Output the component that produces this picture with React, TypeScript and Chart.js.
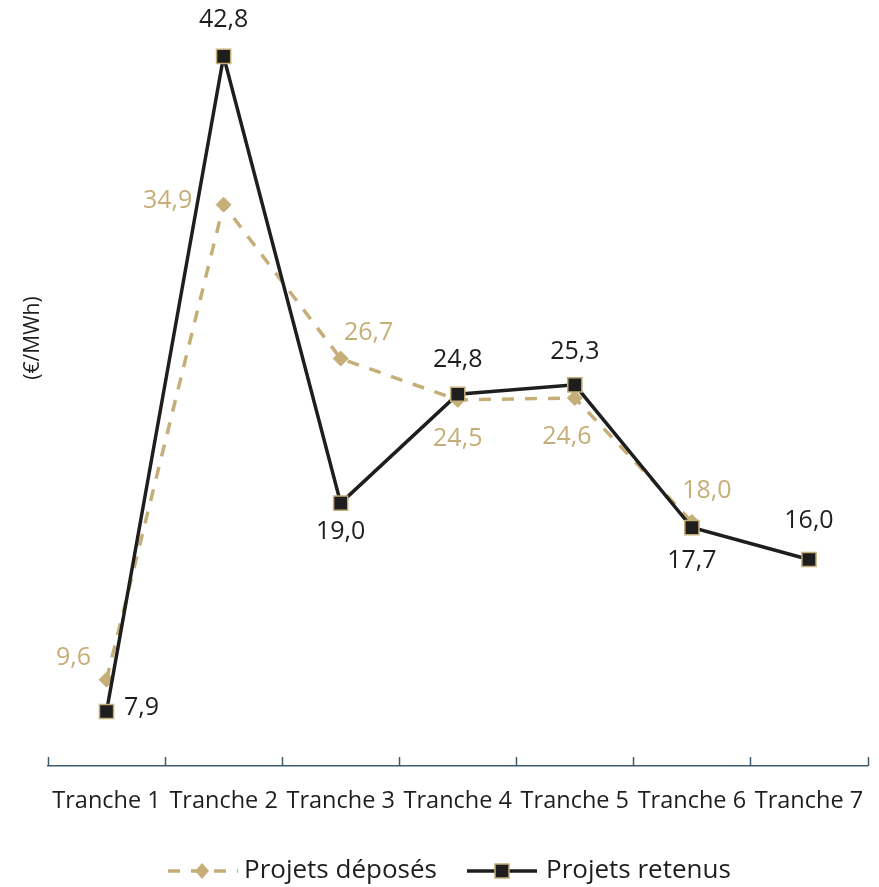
import React, { useEffect, useRef } from "react";
import { Chart, registerables } from "chart.js";

Chart.register(...registerables);

const categories = ["Tranche 1", "Tranche 2", "Tranche 3", "Tranche 4", "Tranche 5", "Tranche 6", "Tranche 7"];
const deposes: (number | null)[] = [9.6, 34.9, 26.7, 24.5, 24.6, 18.0, null];
const retenus: number[] = [7.9, 42.8, 19.0, 24.8, 25.3, 17.7, 16.0];
const seriesNames = ["Projets déposés", "Projets retenus"];
const yTitle = "(€/MWh)";

const TAN = "#c6ae78";
const DARK = "#1e1e1e";
const AXIS = "#3e5b6e";
const FONT = "'Open Sans', Lato, sans-serif";

// label offsets (dx, dy) relative to point, per dataset
const labelOffsets: [number, number][][] = [
  [[-33, -22], [-56, -4], [28, -26], [0, 39], [-8, 39], [15, -31], [0, 0]],
  [[35, -4], [0, -36], [0, 29], [0, -34], [0, -33], [0, 33], [0, -39]],
];

const fmt = (v: number) => v.toFixed(1).replace(".", ",");

const customPlugin = {
  id: "custom",
  afterDatasetsDraw(chart: any) {
    const ctx = chart.ctx;
    ctx.save();
    ctx.font = `25px ${FONT}`;
    ctx.textAlign = "center";
    ctx.textBaseline = "middle";
    chart.data.datasets.forEach((ds: any, di: number) => {
      const meta = chart.getDatasetMeta(di);
      ctx.fillStyle = di === 0 ? TAN : DARK;
      meta.data.forEach((pt: any, i: number) => {
        const v = ds.data[i];
        if (v === null || v === undefined) return;
        const [dx, dy] = labelOffsets[di][i];
        ctx.fillText(fmt(v), pt.x + dx, pt.y + dy);
      });
    });
    ctx.restore();
  },
  afterDraw(chart: any) {
    const ctx = chart.ctx;
    const xs = chart.scales.x;
    const area = chart.chartArea;
    ctx.save();
    // y axis title
    ctx.save();
    ctx.translate(33, 338);
    ctx.rotate(-Math.PI / 2);
    ctx.font = `21px ${FONT}`;
    ctx.fillStyle = DARK;
    ctx.textAlign = "center";
    ctx.textBaseline = "middle";
    ctx.fillText(yTitle, 0, 0);
    ctx.restore();
    // tick marks at category boundaries (upward)
    ctx.strokeStyle = AXIS;
    ctx.lineWidth = 1.5;
    const n = categories.length;
    const step = (area.right - area.left) / n;
    for (let i = 0; i <= n; i++) {
      const x = Math.round(xs.getPixelForValue(0) - step / 2 + i * step) + 0.5;
      ctx.beginPath();
      ctx.moveTo(x, area.bottom);
      ctx.lineTo(x, area.bottom - 9);
      ctx.stroke();
    }
    // legend
    const ly = 871;
    ctx.font = `26px ${FONT}`;
    ctx.textBaseline = "middle";
    ctx.textAlign = "left";
    // deposes
    ctx.strokeStyle = TAN;
    ctx.lineWidth = 3.5;
    ctx.setLineDash([12, 11]);
    ctx.beginPath();
    ctx.moveTo(168, ly);
    ctx.lineTo(238, ly);
    ctx.stroke();
    ctx.setLineDash([]);
    ctx.fillStyle = TAN;
    ctx.beginPath();
    ctx.moveTo(202, ly - 8);
    ctx.lineTo(209, ly);
    ctx.lineTo(202, ly + 8);
    ctx.lineTo(195, ly);
    ctx.closePath();
    ctx.fill();
    ctx.fillStyle = DARK;
    ctx.fillText(seriesNames[0], 244, ly);
    // retenus
    ctx.strokeStyle = DARK;
    ctx.lineWidth = 3.5;
    ctx.beginPath();
    ctx.moveTo(467, ly);
    ctx.lineTo(537, ly);
    ctx.stroke();
    ctx.fillStyle = DARK;
    ctx.fillRect(495, ly - 7, 14, 14);
    ctx.strokeStyle = TAN;
    ctx.lineWidth = 1.5;
    ctx.strokeRect(495, ly - 7, 14, 14);
    ctx.fillStyle = DARK;
    ctx.fillText(seriesNames[1], 546, ly);
    ctx.restore();
  },
};

export default function App() {
  const ref = useRef<HTMLCanvasElement | null>(null);
  useEffect(() => {
    if (!ref.current) return;
    const chart = new Chart(ref.current, {
      type: "line",
      data: {
        labels: categories,
        datasets: [
          {
            label: seriesNames[0],
            data: deposes,
            borderColor: TAN,
            backgroundColor: TAN,
            borderWidth: 3.5,
            borderDash: [12, 11],
            pointStyle: "rectRot",
            pointRadius: 7.5,
            pointBackgroundColor: TAN,
            pointBorderColor: TAN,
            pointBorderWidth: 1,
            order: 1,
            tension: 0,
          },
          {
            label: seriesNames[1],
            data: retenus,
            borderColor: DARK,
            backgroundColor: DARK,
            borderWidth: 3.5,
            pointStyle: "rect",
            pointRadius: 10,
            pointBackgroundColor: DARK,
            pointBorderColor: TAN,
            pointBorderWidth: 1.5,
            order: 0,
            tension: 0,
          },
        ] as any,
      },
      options: {
        animation: false,
        responsive: true,
        maintainAspectRatio: false,
        layout: { padding: { left: 48, right: 8, top: 15, bottom: 71 } },
        plugins: {
          legend: { display: false },
          tooltip: { enabled: false },
        },
        scales: {
          x: {
            offset: true,
            grid: { display: true, drawOnChartArea: false, drawTicks: false },
            border: { display: true, color: AXIS, width: 1.5 },
            ticks: {
              color: DARK,
              font: { family: FONT, size: 23.5 },
              padding: 21,
              maxRotation: 0,
              autoSkip: false,
            },
            afterFit: (s: any) => {
              s.height = 50;
              s.paddingLeft = 0;
              s.paddingRight = 0;
            },
          },
          y: {
            display: false,
            min: 5,
            max: 45,
          },
        },
      },
      plugins: [customPlugin],
    });
    return () => chart.destroy();
  }, []);
  return (
    <div style={{ position: "fixed", left: 0, top: 0, width: 879, height: 887, background: "#fff" }}>
      <canvas ref={ref} />
    </div>
  );
}
